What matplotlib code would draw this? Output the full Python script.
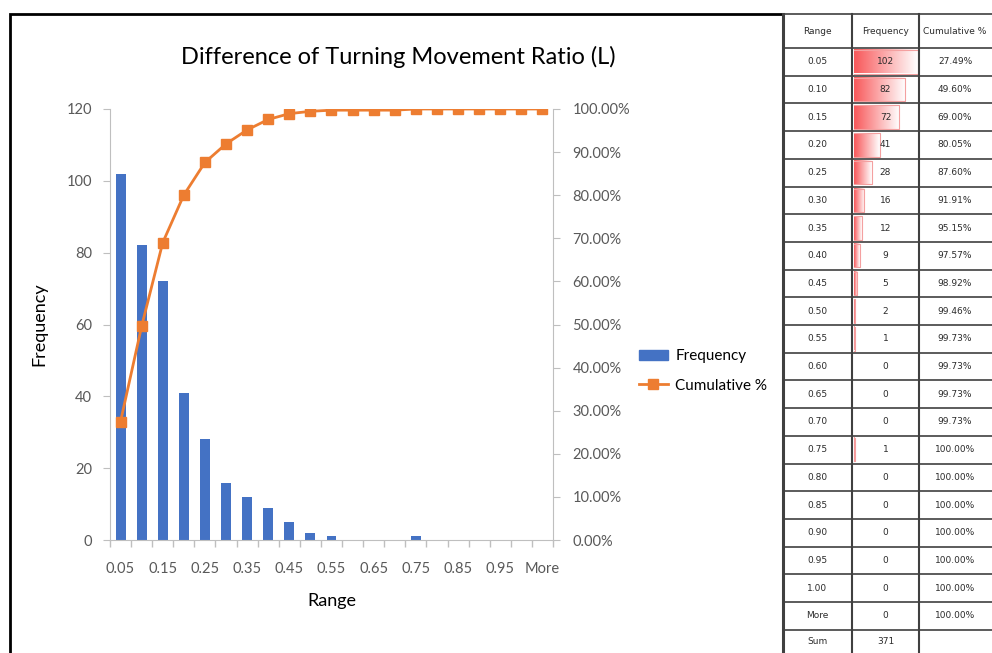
import numpy as np
import matplotlib
matplotlib.use("Agg")
import matplotlib.pyplot as plt
from matplotlib.colors import LinearSegmentedColormap
from matplotlib.patches import Patch
from matplotlib.lines import Line2D

ranges = ['0.05', '0.10', '0.15', '0.20', '0.25', '0.30', '0.35', '0.40', '0.45', '0.50',
          '0.55', '0.60', '0.65', '0.70', '0.75', '0.80', '0.85', '0.90', '0.95', '1.00', 'More']
frequency = [102, 82, 72, 41, 28, 16, 12, 9, 5, 2, 1, 0, 0, 0, 1, 0, 0, 0, 0, 0, 0]
cumulative = [27.49, 49.60, 69.00, 80.05, 87.60, 91.91, 95.15, 97.57, 98.92, 99.46, 99.73,
              99.73, 99.73, 99.73, 100.0, 100.0, 100.0, 100.0, 100.0, 100.0, 100.0]
total = 371

W, H = 992, 653
BLUE = '#4472C4'
ORANGE = '#ED7D31'
GRAY = '#595959'
AXC = '#BFBFBF'
FONT = 'Lato'

fig = plt.figure(figsize=(W / 100, H / 100), dpi=100)


def px_rect(x0, y0, x1, y1):
    return [x0 / W, 1 - y1 / H, (x1 - x0) / W, (y1 - y0) / H]


# ---- main chart ----
ax = fig.add_axes(px_rect(110, 109, 553, 540))
x = np.arange(len(ranges))
ax.bar(x, frequency, width=0.47, color=BLUE, zorder=2)
ax.set_xlim(-0.5, len(ranges) - 0.5)
ax.set_ylim(0, 120)
ax.set_yticks(range(0, 121, 20))
ax.set_xticks(x[::2])
ax.set_xticklabels([ranges[i] for i in x[::2][:-1]] + ['More'])
ax.set_xticks(np.arange(-0.5, len(ranges)), minor=True)
ax.tick_params(axis='x', which='major', length=0, pad=16, labelsize=10.5, labelcolor=GRAY)
ax.tick_params(axis='x', which='minor', length=5, color=AXC, width=1)
ax.tick_params(axis='y', length=5, color=AXC, pad=8, labelsize=10.5, labelcolor=GRAY)
for s in ['top', 'right']:
    ax.spines[s].set_visible(False)
for s in ['left', 'bottom']:
    ax.spines[s].set_color(AXC)
for lab in ax.get_xticklabels() + ax.get_yticklabels():
    lab.set_fontfamily(FONT)
ax.set_xlabel('Range', fontsize=13, fontfamily=FONT, labelpad=12)
ax.set_ylabel('Frequency', fontsize=13, fontfamily=FONT)
ax.yaxis.set_label_coords((47 - 110) / 443, 0.5)

ax2 = ax.twinx()
ax2.plot(x, np.array(cumulative) / 100, color=ORANGE, lw=2, marker='s', ms=7, zorder=3)
ax2.set_ylim(0, 1)
ax2.set_yticks(np.arange(0, 1.01, 0.1))
ax2.set_yticklabels(['%.2f%%' % (v * 100) for v in np.arange(0, 1.01, 0.1)])
ax2.tick_params(axis='y', length=5, color=AXC, pad=9, labelsize=10.5, labelcolor=GRAY)
for s in ['top', 'left', 'bottom']:
    ax2.spines[s].set_visible(False)
ax2.spines['right'].set_color(AXC)
for lab in ax2.get_yticklabels():
    lab.set_fontfamily(FONT)

fig.text(398 / W, 1 - 57 / H, 'Difference of Turning Movement Ratio (L)', ha='center', va='center',
         fontsize=17, fontfamily=FONT)

# legend
handles = [Patch(color=BLUE), Line2D([], [], color=ORANGE, lw=2, marker='s', ms=7)]
fig.legend(handles, ['Frequency', 'Cumulative %'], loc='center left',
           bbox_to_anchor=(625 / W, 1 - 371 / H), frameon=False,
           prop={'family': FONT, 'size': 11}, handlelength=1.9, handletextpad=0.5,
           labelspacing=1.0)

# ---- overlay in pixel coords: chart frame + table ----
ov = fig.add_axes([0, 0, 1, 1])
ov.axis('off')
ov.patch.set_visible(False)

ov.plot([10, 10, 783], [H + 5, 14, 14], color='black', lw=2, solid_joinstyle='miter')

col_x = [783, 852, 919, 1000]
top, head_bot, row_h = 14, 48, 27.7
n = len(ranges)
row_edges = [top, head_bot] + [head_bot + row_h * (i + 1) for i in range(n)]
for yy in row_edges:
    ov.plot([col_x[0], W], [yy, yy], color='#404040', lw=1.2)
for xx in col_x[:3]:
    ov.plot([xx, xx], [top, H + 5], color='#404040', lw=2.2 if xx == 783 else 1.5)

TFONT = 'DejaVu Sans'
tc = '#2b2b2b'
mid = [(col_x[i] + col_x[i + 1]) / 2 for i in range(2)] + [955]
for j, h in enumerate(['Range', 'Frequency', 'Cumulative %']):
    ov.text(mid[j], (top + head_bot) / 2, h, ha='center', va='center', fontsize=6.5,
            color=tc, fontfamily=TFONT)

cmap = LinearSegmentedColormap.from_list('db', ['#F8595B', '#FFFFFF'])
grad = np.linspace(0, 1, 100).reshape(1, -1)
bar_max = col_x[2] - col_x[1] - 3
for i in range(n):
    y0 = head_bot + row_h * i
    yc = y0 + row_h / 2
    f = frequency[i]
    if f > 0:
        bw = bar_max * f / max(frequency)
        ov.imshow(grad, cmap=cmap, aspect='auto',
                  extent=[col_x[1] + 2, col_x[1] + 2 + bw, y0 + 25.5, y0 + 2], zorder=1)
        ov.plot([col_x[1] + 2, col_x[1] + 2 + bw, col_x[1] + 2 + bw, col_x[1] + 2],
                [y0 + 2, y0 + 2, y0 + 25.5, y0 + 25.5], color='#F4A0A0', lw=0.8, zorder=1)
    ov.text(mid[0], yc, ranges[i], ha='center', va='center', fontsize=6.5, color=tc, fontfamily=TFONT)
    ov.text(mid[1], yc, str(f), ha='center', va='center', fontsize=6.5, color=tc, fontfamily=TFONT,
            zorder=3)
    ov.text(mid[2], yc, '%.2f%%' % cumulative[i], ha='center', va='center', fontsize=6.5, color=tc,
            fontfamily=TFONT)
ys = head_bot + row_h * n + row_h / 2 - 2
ov.text(mid[0], ys, 'Sum', ha='center', va='center', fontsize=6.5, color=tc, fontfamily=TFONT)
ov.text(mid[1], ys, str(total), ha='center', va='center', fontsize=6.5, color=tc, fontfamily=TFONT)
ov.set_xlim(0, W)
ov.set_ylim(H, 0)

fig.savefig('out.png', dpi=100)
